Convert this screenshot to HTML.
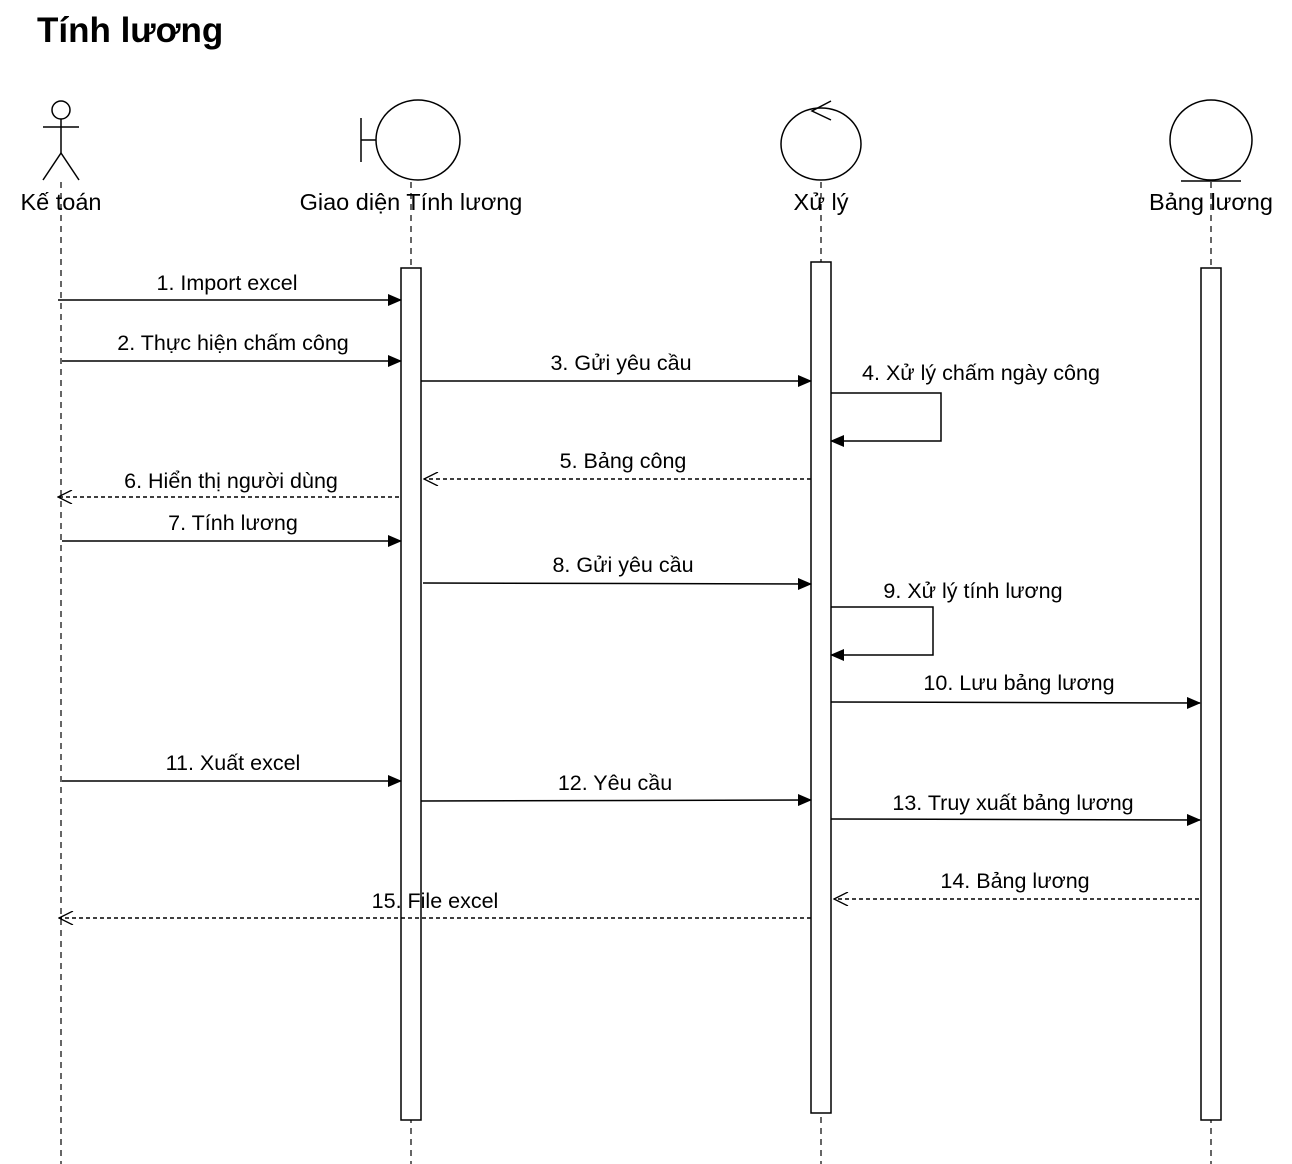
<!DOCTYPE html>
<html><head><meta charset="utf-8"><style>
html,body{margin:0;padding:0;background:#fff;}
svg{display:block;}
text{font-family:"Liberation Sans",Arial,sans-serif;fill:#000;}
</style></head><body>
<svg width="1292" height="1164" viewBox="0 0 1292 1164" xmlns="http://www.w3.org/2000/svg">
<defs>
<marker id="f" markerWidth="14" markerHeight="12" refX="13" refY="6" orient="auto" markerUnits="userSpaceOnUse"><path d="M0,0 L14,6 L0,12 Z" fill="#000"/></marker>
<marker id="o" markerWidth="16" markerHeight="14" refX="15" refY="7" orient="auto" markerUnits="userSpaceOnUse"><path d="M1,0 L15,7 L1,14" fill="none" stroke="#000" stroke-width="1.3"/></marker>
</defs>
<text x="37" y="42" font-size="35" font-weight="bold">Tính lương</text>

<g stroke="#000" stroke-width="1.5" fill="none">
<circle cx="61" cy="110" r="9"/>
<line x1="61" y1="119" x2="61" y2="153"/>
<line x1="43" y1="127" x2="79" y2="127"/>
<line x1="61" y1="153" x2="43" y2="180"/>
<line x1="61" y1="153" x2="79" y2="180"/>
<line x1="361" y1="118" x2="361" y2="162"/>
<line x1="361" y1="140" x2="376" y2="140"/>
<ellipse cx="418" cy="140" rx="42" ry="40"/>
<ellipse cx="821" cy="144" rx="40" ry="36"/>
<polyline points="831,101 812,111 831,120"/>
<ellipse cx="1211" cy="140" rx="41" ry="40"/>
<line x1="1181" y1="181" x2="1241" y2="181"/>
</g>
<g stroke="#000" stroke-width="1.2" stroke-dasharray="6,5">
<line x1="61" y1="182" x2="61" y2="1164"/>
<line x1="411" y1="182" x2="411" y2="1164"/>
<line x1="821" y1="182" x2="821" y2="1164"/>
<line x1="1211" y1="182" x2="1211" y2="1164"/>
</g>
<g font-size="23.5" text-anchor="middle">
<text x="61" y="210">Kế toán</text>
<text x="411" y="210">Giao diện Tính lương</text>
<text x="821" y="210">Xử lý</text>
<text x="1211" y="210">Bảng lương</text>
</g>
<g stroke="#000" stroke-width="1.5" fill="#fff">
<rect x="401" y="268" width="20" height="852"/>
<rect x="811" y="262" width="20" height="851"/>
<rect x="1201" y="268" width="20" height="852"/>
</g>
<g stroke="#000" stroke-width="1.5" fill="none">
<line x1="58" y1="300" x2="401" y2="300" marker-end="url(#f)"/>
<line x1="62" y1="361" x2="401" y2="361" marker-end="url(#f)"/>
<line x1="421" y1="381" x2="811" y2="381" marker-end="url(#f)"/>
<polyline points="831,393 941,393 941,441 831,441" marker-end="url(#f)"/>
<line x1="811" y1="479" x2="424" y2="479" stroke-dasharray="4,3" marker-end="url(#o)"/>
<line x1="399" y1="497" x2="58" y2="497" stroke-dasharray="4,3" marker-end="url(#o)"/>
<line x1="62" y1="541" x2="401" y2="541" marker-end="url(#f)"/>
<line x1="423" y1="583" x2="811" y2="584" marker-end="url(#f)"/>
<polyline points="831,607 933,607 933,655 831,655" marker-end="url(#f)"/>
<line x1="831" y1="702" x2="1200" y2="703" marker-end="url(#f)"/>
<line x1="62" y1="781" x2="401" y2="781" marker-end="url(#f)"/>
<line x1="421" y1="801" x2="811" y2="800" marker-end="url(#f)"/>
<line x1="831" y1="819" x2="1200" y2="820" marker-end="url(#f)"/>
<line x1="1199" y1="899" x2="834" y2="899" stroke-dasharray="4,3" marker-end="url(#o)"/>
<line x1="811" y1="918" x2="59" y2="918" stroke-dasharray="4,3" marker-end="url(#o)"/>
</g>
<g font-size="21.5" text-anchor="middle">
<text x="227" y="290">1. Import excel</text>
<text x="233" y="350">2. Thực hiện chấm công</text>
<text x="621" y="370">3. Gửi yêu cầu</text>
<text x="981" y="380">4. Xử lý chấm ngày công</text>
<text x="623" y="468">5. Bảng công</text>
<text x="231" y="488">6. Hiển thị người dùng</text>
<text x="233" y="530">7. Tính lương</text>
<text x="623" y="572">8. Gửi yêu cầu</text>
<text x="973" y="598">9. Xử lý tính lương</text>
<text x="1019" y="690">10. Lưu bảng lương</text>
<text x="233" y="770">11. Xuất excel</text>
<text x="615" y="790">12.  Yêu cầu</text>
<text x="1013" y="810">13. Truy xuất bảng lương</text>
<text x="1015" y="888">14. Bảng lương</text>
<text x="435" y="908">15. File excel</text>
</g>
</svg>
</body></html>
